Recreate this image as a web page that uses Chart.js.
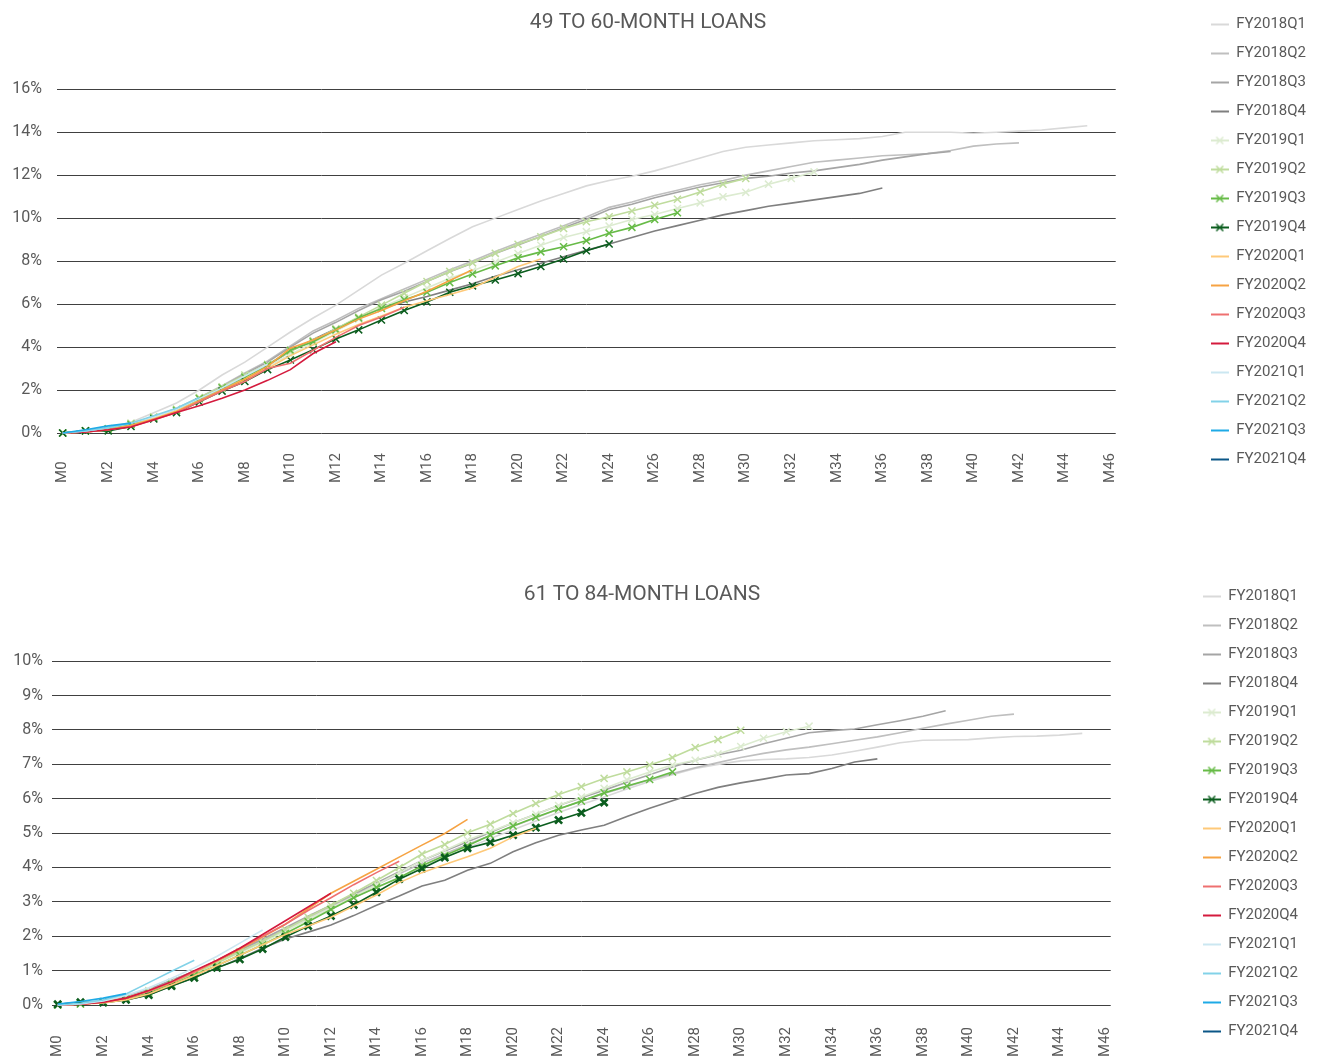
<!DOCTYPE html>
<html>
<head>
<meta charset="utf-8">
<script src="https://cdn.jsdelivr.net/npm/chart.js@4.4.1/dist/chart.umd.min.js"></script>
<style>
html,body{margin:0;padding:0;background:#ffffff;width:1321px;height:1057px;overflow:hidden;position:relative}
canvas{position:absolute}
#topChart{left:-20px;top:0px}
#bottomChart{left:-24px;top:572px}
</style>
</head>
<body>
<canvas id="topChart" width="1341" height="500"></canvas>
<canvas id="bottomChart" width="1345" height="485"></canvas>
<script>
// ---------- categories / labels ----------
const seriesNames = ['FY2018Q1','FY2018Q2','FY2018Q3','FY2018Q4','FY2019Q1','FY2019Q2','FY2019Q3','FY2019Q4',
                     'FY2020Q1','FY2020Q2','FY2020Q3','FY2020Q4','FY2021Q1','FY2021Q2','FY2021Q3','FY2021Q4'];
const monthTicks = ['M0','M2','M4','M6','M8','M10','M12','M14','M16','M18','M20','M22','M24',
                    'M26','M28','M30','M32','M34','M36','M38','M40','M42','M44','M46'];
const topTitle = '49 TO 60-MONTH LOANS';
const bottomTitle = '61 TO 84-MONTH LOANS';
const topYTicks = [0,2,4,6,8,10,12,14,16];
const bottomYTicks = [0,1,2,3,4,5,6,7,8,9,10];

// ---------- 49 to 60-month loans (cumulative %, M0 onward) ----------
const t18q1 = [0,0.1,0.25,0.5,0.94,1.4,2.0,2.7,3.3,4.0,4.7,5.35,5.95,6.65,7.35,7.9,8.48,9.05,9.6,10.0,10.4,10.8,11.15,11.5,11.75,11.95,12.2,12.5,12.8,13.1,13.3,13.4,13.5,13.6,13.65,13.7,13.8,14.0,14.0,14.0,13.95,14.0,14.05,14.1,14.2,14.3];
const t18q2 = [0,0.1,0.2,0.4,0.75,1.15,1.65,2.2,2.8,3.35,4.05,4.75,5.25,5.8,6.25,6.7,7.15,7.6,8.0,8.45,8.85,9.25,9.65,10.05,10.5,10.75,11.05,11.3,11.55,11.75,12.0,12.2,12.4,12.6,12.7,12.8,12.9,12.95,13.0,13.15,13.35,13.45,13.5];
const t18q3 = [0,0.1,0.2,0.4,0.75,1.1,1.6,2.15,2.75,3.3,4.0,4.65,5.15,5.7,6.2,6.6,7.05,7.5,7.9,8.35,8.75,9.15,9.55,9.95,10.4,10.65,10.95,11.2,11.45,11.65,11.85,11.95,12.1,12.2,12.35,12.5,12.7,12.85,13.0,13.1];
const t18q4 = [0,0.1,0.2,0.4,0.7,1.1,1.55,2.05,2.6,3.15,3.8,4.35,4.85,5.35,5.8,6.1,6.35,6.65,6.95,7.3,7.6,7.9,8.2,8.5,8.8,9.1,9.4,9.65,9.9,10.15,10.35,10.55,10.7,10.85,11.0,11.15,11.4];
const t19q1 = [0,0.1,0.2,0.45,0.75,1.1,1.6,2.1,2.6,3.1,3.65,4.2,4.75,5.3,5.85,6.3,6.75,7.2,7.55,7.95,8.35,8.74,9.1,9.37,9.63,9.94,10.17,10.45,10.71,10.99,11.2,11.58,11.85,12.15];
const t19q2 = [0,0.1,0.2,0.45,0.75,1.1,1.65,2.15,2.7,3.2,3.8,4.3,4.85,5.4,5.95,6.5,7.05,7.52,7.92,8.36,8.78,9.13,9.52,9.83,10.06,10.33,10.6,10.88,11.22,11.58,11.85];
const t19q3 = [0,0.1,0.2,0.4,0.7,1.05,1.6,2.1,2.6,3.15,3.85,4.25,4.8,5.35,5.8,6.2,6.55,7.0,7.4,7.78,8.15,8.43,8.67,8.95,9.3,9.57,9.94,10.25];
const t19q4 = [0,0.1,0.1,0.3,0.65,0.95,1.45,1.95,2.4,2.95,3.4,3.88,4.38,4.8,5.26,5.7,6.1,6.55,6.85,7.12,7.42,7.75,8.1,8.48,8.8];
const t20q1 = [0,0.05,0.15,0.35,0.7,1.05,1.5,2.0,2.5,3.0,3.6,4.1,4.6,5.05,5.45,5.85,6.15,6.45,6.75,7.25,7.75,8.1];
const t20q2 = [0,0.05,0.15,0.35,0.65,1.0,1.5,2.0,2.5,3.1,3.95,4.33,4.8,5.3,5.7,6.15,6.6,7.1,7.6];
const t20q3 = [0,0.05,0.15,0.3,0.6,0.95,1.45,1.95,2.4,3.0,3.25,3.85,4.45,5.0,5.4,5.85];
const t20q4 = [0,0.05,0.15,0.28,0.62,0.95,1.27,1.62,2.0,2.45,2.95,3.7,4.25];
const t21q1 = [0,0.1,0.25,0.45,0.75,1.1,1.6,2.1,2.65,3.2];
const t21q2 = [0,0.1,0.25,0.45,0.8,1.15,1.65];
const t21q3 = [0,0.15,0.33,0.46];
const t21q4 = [0];

// ---------- 61 to 84-month loans ----------
const b18q1 = [0,0.03,0.1,0.25,0.45,0.7,0.97,1.27,1.58,1.88,2.2,2.5,2.82,3.12,3.42,3.72,4.02,4.3,4.57,4.84,5.1,5.35,5.6,5.83,6.05,6.28,6.5,6.7,6.88,7.0,7.1,7.14,7.16,7.2,7.27,7.38,7.5,7.63,7.7,7.71,7.72,7.77,7.81,7.82,7.85,7.9];
const b18q2 = [0,0.03,0.1,0.25,0.45,0.72,0.98,1.28,1.6,1.9,2.22,2.55,2.87,3.18,3.5,3.82,4.12,4.4,4.67,4.93,5.2,5.45,5.7,5.93,6.15,6.35,6.55,6.73,6.9,7.05,7.2,7.32,7.42,7.5,7.6,7.7,7.8,7.92,8.05,8.17,8.28,8.4,8.46];
const b18q3 = [0,0.03,0.1,0.25,0.45,0.72,0.98,1.28,1.6,1.92,2.25,2.58,2.9,3.22,3.55,3.88,4.2,4.48,4.75,5.02,5.3,5.55,5.8,6.03,6.25,6.48,6.7,6.92,7.12,7.28,7.41,7.6,7.76,7.92,7.98,8.03,8.15,8.27,8.4,8.56];
const b18q4 = [0,0.03,0.08,0.15,0.3,0.55,0.8,1.08,1.35,1.65,1.92,2.12,2.33,2.6,2.9,3.17,3.46,3.63,3.92,4.12,4.46,4.72,4.94,5.09,5.23,5.48,5.72,5.94,6.15,6.33,6.46,6.57,6.69,6.73,6.88,7.07,7.16];
const b19q1 = [0,0.03,0.1,0.22,0.42,0.66,0.93,1.22,1.52,1.82,2.15,2.48,2.82,3.15,3.5,3.85,4.2,4.5,4.8,5.05,5.3,5.55,5.8,6.05,6.3,6.55,6.78,6.98,7.12,7.3,7.52,7.76,7.95,8.11];
const b19q2 = [0,0.03,0.1,0.22,0.4,0.65,0.92,1.22,1.55,1.85,2.2,2.55,2.9,3.25,3.62,4.0,4.39,4.67,5.01,5.26,5.57,5.86,6.12,6.35,6.59,6.78,6.98,7.2,7.49,7.72,7.99];
const b19q3 = [0,0.03,0.08,0.18,0.35,0.6,0.87,1.15,1.45,1.75,2.08,2.42,2.78,3.12,3.42,3.7,4.05,4.35,4.63,4.94,5.21,5.46,5.7,5.93,6.17,6.37,6.56,6.78];
const b19q4 = [0.02,0.08,0.07,0.15,0.29,0.55,0.79,1.08,1.33,1.63,1.98,2.3,2.59,2.91,3.28,3.66,3.97,4.29,4.56,4.73,4.94,5.16,5.38,5.59,5.89];
const b20q1 = [0,0.02,0.06,0.15,0.32,0.58,0.85,1.15,1.45,1.75,2.05,2.3,2.55,2.88,3.2,3.56,3.85,4.09,4.31,4.56,4.89,5.14];
const b20q2 = [0,0.02,0.08,0.2,0.4,0.65,0.95,1.28,1.62,1.98,2.35,2.8,3.25,3.6,3.95,4.3,4.65,4.99,5.4];
const b20q3 = [0,0.02,0.08,0.2,0.4,0.66,0.96,1.3,1.65,2.0,2.35,2.75,3.12,3.5,3.85,4.18];
const b20q4 = [0,0.02,0.08,0.2,0.42,0.68,1.0,1.3,1.65,2.05,2.45,2.85,3.25];
const b21q1 = [0,0.03,0.12,0.28,0.5,0.78,1.08,1.42,1.8,2.18];
const b21q2 = [0,0.05,0.15,0.32,0.65,0.98,1.3];
const b21q3 = [0.03,0.1,0.2,0.33];
const b21q4 = [0];

const topSeries = [t18q1,t18q2,t18q3,t18q4,t19q1,t19q2,t19q3,t19q4,t20q1,t20q2,t20q3,t20q4,t21q1,t21q2,t21q3,t21q4];
const bottomSeries = [b18q1,b18q2,b18q3,b18q4,b19q1,b19q2,b19q3,b19q4,b20q1,b20q2,b20q3,b20q4,b21q1,b21q2,b21q3,b21q4];

// ---------- styles ----------
const seriesColors = ['#d9d9d9','#bfbfbf','#a5a5a5','#7f7f7f','#dcebd0','#bfdc9d','#67bb47','#0b5d1e',
                      '#fec979','#f6a343','#ee7070','#d41a3d','#cbe7f1','#82d2e8','#1eaae6','#0b5687'];
const seriesMarked = [false,false,false,false,true,true,true,true,false,false,false,false,false,false,false,false];
const FONT = 'Roboto, "Noto Sans", "DejaVu Sans", sans-serif';
const TEXT = '#595959';
const GRID = '#404040';

function legendIcon(color, marked) {
  const c = document.createElement('canvas');
  c.width = 18; c.height = 10;
  const g = c.getContext('2d');
  g.strokeStyle = color; g.lineWidth = 2;
  g.beginPath(); g.moveTo(0, 5); g.lineTo(18, 5); g.stroke();
  if (marked) {
    g.lineWidth = 1.5;
    g.beginPath();
    g.moveTo(5.5, 1.5); g.lineTo(12.5, 8.5);
    g.moveTo(12.5, 1.5); g.lineTo(5.5, 8.5);
    g.stroke();
  }
  return c;
}

function build(id, title, series, yTicks, L) {
  const icons = series.map((_, i) => legendIcon(seriesColors[i], seriesMarked[i]));
  const datasets = series.map((vals, i) => ({
    label: seriesNames[i],
    data: vals.map((v, k) => ({ x: k, y: v })),
    borderColor: seriesColors[i],
    backgroundColor: seriesColors[i],
    borderWidth: 1.6,
    tension: 0,
    fill: false,
    clip: false,
    pointStyle: 'crossRot',
    pointRadius: seriesMarked[i] ? 5 : 0,
    pointHoverRadius: seriesMarked[i] ? 5 : 0,
    pointBorderColor: seriesColors[i],
    pointBorderWidth: (L.boldMarker === i) ? 2.6 : 1.5,
    order: -i
  }));
  return new Chart(document.getElementById(id), {
    type: 'line',
    data: { datasets },
    options: {
      responsive: false,
      animation: false,
      events: [],
      layout: { padding: { left: 0, right: L.padRight, top: 0, bottom: 0 } },
      plugins: {
        title: {
          display: true, text: title, color: TEXT,
          font: { family: FONT, size: 21, weight: 'normal' },
          padding: { top: 10, bottom: 54 }
        },
        legend: {
          position: 'right', align: 'start', fullSize: true,
          title: { display: true, text: ' ', font: { size: 2.5 }, padding: 0 },
          labels: {
            usePointStyle: true, pointStyleWidth: 18, boxHeight: 15, padding: 14,
            color: TEXT, font: { family: FONT, size: 15 },
            generateLabels: (ch) => {
              const items = Chart.defaults.plugins.legend.labels.generateLabels(ch);
              items.sort((a, b) => a.datasetIndex - b.datasetIndex);
              items.forEach(it => { it.pointStyle = icons[it.datasetIndex]; it.lineWidth = 0; });
              return items;
            }
          }
        },
        tooltip: { enabled: false }
      },
      scales: {
        x: {
          type: 'linear', bounds: 'data', min: -0.25, max: 46.25,
          grid: { display: false }, border: { display: false },
          afterBuildTicks: (s) => { s.ticks = monthTicks.map(t => ({ value: parseInt(t.slice(1), 10) })); },
          ticks: {
            autoSkip: false, minRotation: 90, maxRotation: 90, padding: L.xPad,
            color: TEXT, font: { family: FONT, size: 15 },
            callback: (v, idx) => { const lab = monthTicks[idx]; return lab.length === 2 ? lab + '\u2007' : lab; }
          },
          afterFit: (s) => { s.height = L.xHeight; }
        },
        y: {
          min: yTicks[0], max: yTicks[yTicks.length - 1],
          afterBuildTicks: (s) => { s.ticks = yTicks.map(v => ({ value: v })); },
          grid: { color: GRID, lineWidth: 1, drawTicks: false },
          border: { display: false },
          ticks: { padding: L.yPad, color: TEXT, font: { family: FONT, size: 16 }, callback: (v) => v + '%' },
          afterFit: (s) => { s.width = L.yWidth; }
        },
        gap: {
          type: 'linear', position: 'right', display: true,
          grid: { display: false }, border: { display: false }, ticks: { display: false },
          afterFit: (s) => { s.width = L.gap; }
        }
      }
    }
  });
}

build('topChart', topTitle, topSeries, topYTicks,
      { padRight: 5, yWidth: 77, yPad: 15, gap: 81, xPad: 12, xHeight: 67, boldMarker: -1 });
build('bottomChart', bottomTitle, bottomSeries, bottomYTicks,
      { padRight: 13, yWidth: 76, yPad: 9, gap: 78, xPad: 14, xHeight: 52, boldMarker: 7 });
</script>
</body>
</html>
